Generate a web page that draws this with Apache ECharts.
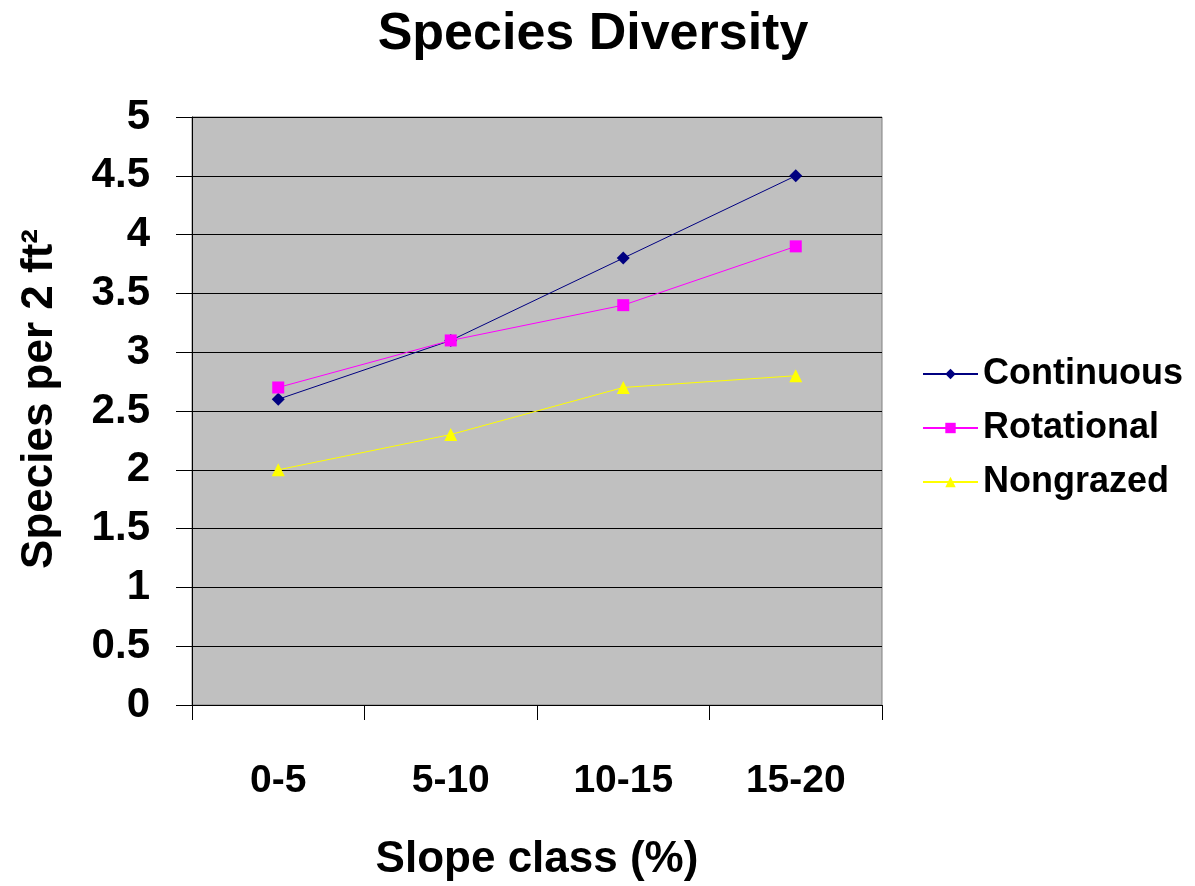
<!DOCTYPE html>
<html><head><meta charset="utf-8">
<script src="https://cdn.jsdelivr.net/npm/echarts@6/dist/echarts.min.js"></script>
<style>html,body{margin:0;padding:0;background:#fff}#c{width:1195px;height:886px}</style>
</head><body><div id="c"></div>
<script>
const categories = ['0-5', '5-10', '10-15', '15-20'];
const continuous = [2.6, 3.1, 3.8, 4.5];
const rotational = [2.7, 3.1, 3.4, 3.9];
const nongrazed = [2.0, 2.3, 2.7, 2.8];
const seriesNames = ['Continuous', 'Rotational', 'Nongrazed'];

const font = 'Liberation Sans, Arial, sans-serif';
const chart = echarts.init(document.getElementById('c'));
function mk(name, data, color, symbol, size) {
  return {
    name, type: 'line', data, symbol, symbolSize: size,
    lineStyle: { color, width: 1 }, itemStyle: { color, borderWidth: 0 },
    emphasis: { disabled: true }, animation: false
  };
}
chart.setOption({
  animation: false,
  title: {
    text: 'Species Diversity', left: 588, top: 4, textAlign: 'center',
    textStyle: { fontFamily: font, fontWeight: 'bold', fontSize: 52, color: '#000' }
  },
  legend: {
    orient: 'vertical', left: 917, top: 351, itemGap: 18,
    itemWidth: 55, itemHeight: 13,
    textStyle: { fontFamily: font, fontWeight: 'bold', fontSize: 36, color: '#000' },
    data: seriesNames
  },
  grid: {
    left: 192, right: 313, top: 117, bottom: 181, outerBoundsMode: 'none', containLabel: false,
    show: true, backgroundColor: '#c0c0c0', borderColor: '#808080', borderWidth: 1
  },
  xAxis: {
    type: 'category', data: categories, boundaryGap: true,
    axisLine: { lineStyle: { color: '#000', width: 1 } },
    axisTick: { show: true, length: 15, lineStyle: { color: '#000' } },
    axisLabel: { margin: 57, fontFamily: font, fontWeight: 'bold', fontSize: 39, color: '#000' },
    name: 'Slope class (%)', nameLocation: 'middle', nameGap: 133,
    nameTextStyle: { fontFamily: font, fontWeight: 'bold', fontSize: 44, color: '#000' }
  },
  yAxis: {
    type: 'value', min: 0, max: 5, interval: 0.5,
    axisLine: { show: true, lineStyle: { color: '#000', width: 1 } },
    axisTick: { show: true, length: 16, lineStyle: { color: '#000' } },
    axisLabel: { margin: 42, fontFamily: font, fontWeight: 'bold', fontSize: 42, color: '#000' },
    splitLine: { show: true, lineStyle: { color: '#000', width: 1 } },
    name: 'Species per 2 ft²', nameLocation: 'middle', nameGap: 130,
    nameTextStyle: { fontFamily: font, fontWeight: 'bold', fontSize: 44, color: '#000', padding: [0, 0, 0, 24] }
  },
  series: [
    mk(seriesNames[0], continuous, '#000080', 'diamond', 13),
    mk(seriesNames[1], rotational, '#ff00ff', 'rect', 12),
    mk(seriesNames[2], nongrazed, '#ffff00', 'triangle', 13)
  ]
});
</script></body></html>
